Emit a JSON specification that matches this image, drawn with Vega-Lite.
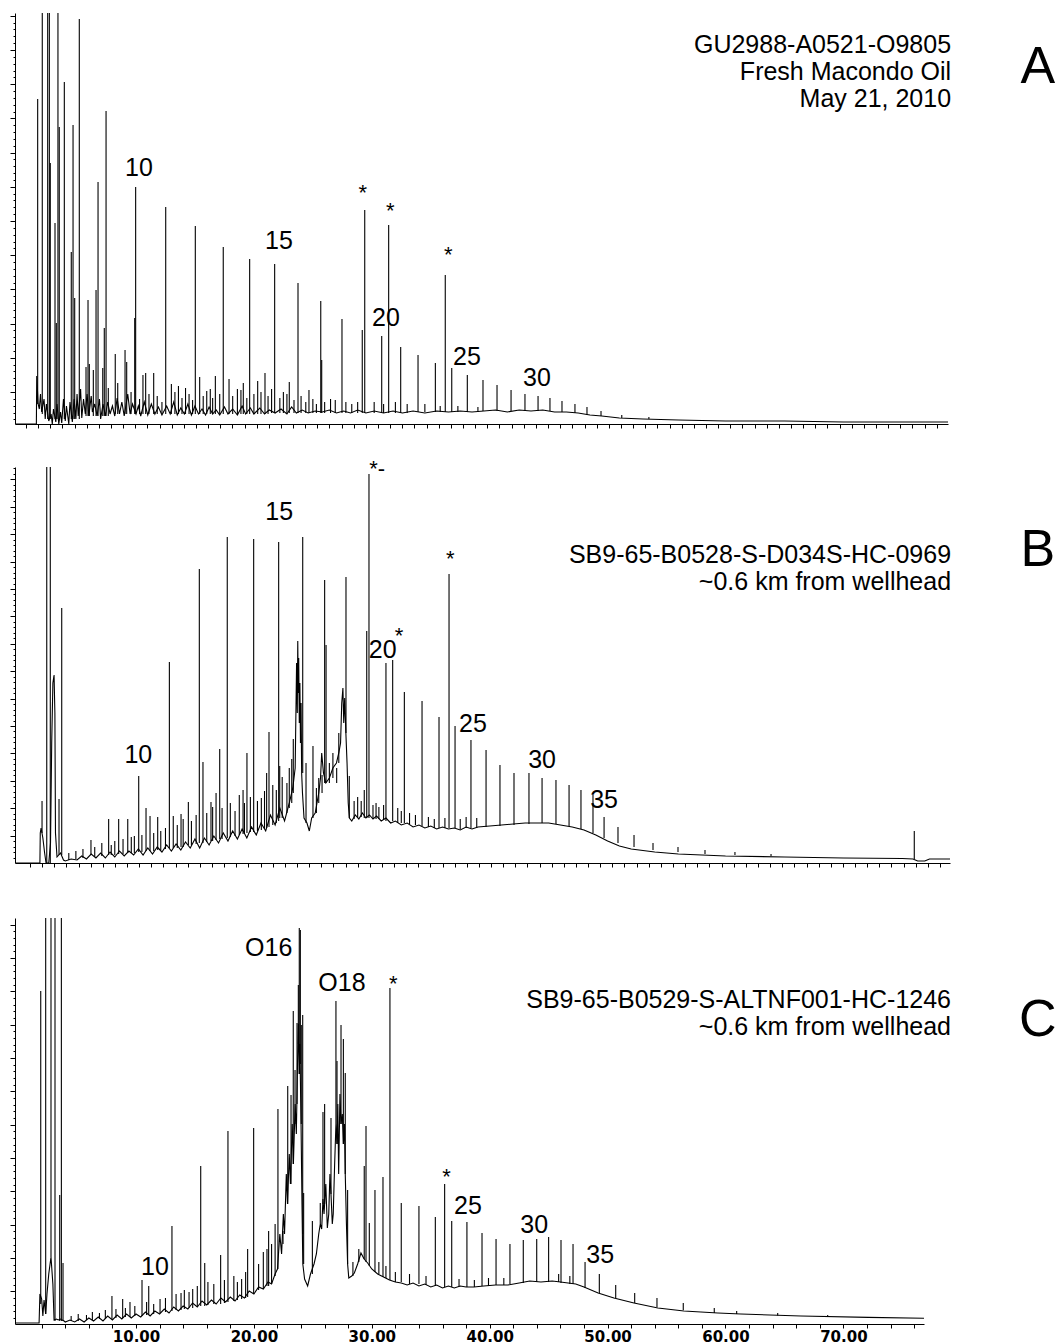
{
"$schema":"https://vega.github.io/schema/vega-lite/v6.json",
"padding":{"left":9,"top":13,"right":0,"bottom":0},
"background":"white",
"config":{"view":{"stroke":null},"axis":{"grid":false,"domainColor":"#000","tickColor":"#000","domainWidth":1,"tickWidth":1,"tickCount":1000}},
"datasets":{
"bA":[{"t":-0.26,"v":0},{"t":1.55,"v":0},{"t":1.58,"v":48},{"t":1.7,"v":20},{"t":1.8,"v":15},{"t":1.9,"v":30},{"t":2.0,"v":12},{"t":2.2,"v":25},{"t":2.3,"v":5},{"t":2.4,"v":20},{"t":2.6,"v":3},{"t":2.8,"v":10},{"t":2.9,"v":0},{"t":3.0,"v":15},{"t":3.2,"v":2},{"t":3.3,"v":20},{"t":3.45,"v":0},{"t":3.6,"v":12},{"t":3.7,"v":1},{"t":3.85,"v":25},{"t":4.0,"v":3},{"t":4.1,"v":18},{"t":4.3,"v":0},{"t":4.4,"v":22},{"t":4.6,"v":2},{"t":4.75,"v":25},{"t":4.9,"v":5},{"t":5.0,"v":30},{"t":5.1,"v":8},{"t":5.3,"v":35},{"t":5.4,"v":6},{"t":5.55,"v":25},{"t":5.7,"v":10},{"t":5.85,"v":30},{"t":6.0,"v":8},{"t":6.2,"v":28},{"t":6.3,"v":12},{"t":6.5,"v":20},{"t":6.7,"v":8},{"t":6.9,"v":25},{"t":7.0,"v":5},{"t":7.2,"v":20},{"t":7.4,"v":8},{"t":7.6,"v":22},{"t":7.8,"v":10},{"t":8.0,"v":18},{"t":8.2,"v":8},{"t":8.4,"v":26},{"t":8.6,"v":10},{"t":8.8,"v":22},{"t":9.0,"v":8},{"t":9.3,"v":30},{"t":9.5,"v":10},{"t":9.7,"v":20},{"t":10.0,"v":10},{"t":10.2,"v":18},{"t":10.4,"v":8},{"t":10.7,"v":22},{"t":11.0,"v":9},{"t":11.3,"v":20},{"t":11.6,"v":10},{"t":11.9,"v":17},{"t":12.2,"v":9},{"t":12.6,"v":18},{"t":12.9,"v":10},{"t":13.2,"v":22},{"t":13.5,"v":9},{"t":13.8,"v":16},{"t":14.1,"v":10},{"t":14.4,"v":20},{"t":14.7,"v":9},{"t":15.0,"v":18},{"t":15.3,"v":10},{"t":15.6,"v":15},{"t":15.9,"v":9},{"t":16.2,"v":17},{"t":16.5,"v":10},{"t":16.8,"v":14},{"t":17.1,"v":9},{"t":17.5,"v":17},{"t":17.8,"v":10},{"t":18.2,"v":15},{"t":18.6,"v":9},{"t":19.0,"v":18},{"t":19.3,"v":10},{"t":19.7,"v":16},{"t":20.0,"v":10},{"t":20.5,"v":16},{"t":20.9,"v":10},{"t":21.3,"v":14},{"t":21.8,"v":11},{"t":22.3,"v":15},{"t":22.8,"v":10},{"t":23.2,"v":17},{"t":23.6,"v":11},{"t":24.1,"v":14},{"t":24.6,"v":11},{"t":25.2,"v":13},{"t":25.8,"v":12},{"t":26.4,"v":14},{"t":27.0,"v":11},{"t":27.6,"v":13},{"t":28.2,"v":11},{"t":28.8,"v":14},{"t":29.5,"v":11},{"t":30.2,"v":13},{"t":31.0,"v":11},{"t":31.8,"v":13},{"t":32.6,"v":11},{"t":33.5,"v":13},{"t":34.5,"v":11},{"t":35.5,"v":13},{"t":36.5,"v":12},{"t":37.5,"v":13},{"t":38.5,"v":12},{"t":39.5,"v":13},{"t":40.5,"v":14},{"t":41.5,"v":12},{"t":42.5,"v":14},{"t":43.5,"v":13},{"t":44.5,"v":14},{"t":45.5,"v":12},{"t":46.5,"v":12},{"t":47.5,"v":11},{"t":48.5,"v":9},{"t":49.5,"v":8},{"t":51,"v":6},{"t":53,"v":5},{"t":56,"v":4},{"t":60,"v":3},{"t":65,"v":3},{"t":70,"v":2},{"t":75,"v":2},{"t":78.87,"v":2}],
"pA":[{"t":1.66,"v":325,"b":20},{"t":2.05,"v":450,"b":10},{"t":2.51,"v":450,"b":5},{"t":2.65,"v":450,"b":5},{"t":2.73,"v":261,"b":5},{"t":3.13,"v":201,"b":5},{"t":3.24,"v":101,"b":5},{"t":3.38,"v":450,"b":5},{"t":3.49,"v":297,"b":5},{"t":3.92,"v":342,"b":5},{"t":4.51,"v":172,"b":5},{"t":4.66,"v":299,"b":5},{"t":4.8,"v":126,"b":5},{"t":5.19,"v":405,"b":5},{"t":5.76,"v":57,"b":8},{"t":5.93,"v":124,"b":8},{"t":6.04,"v":60,"b":8},{"t":6.38,"v":54,"b":8},{"t":6.61,"v":134,"b":8},{"t":6.78,"v":242,"b":8},{"t":7.18,"v":56,"b":8},{"t":7.31,"v":96,"b":8},{"t":7.46,"v":313,"b":8},{"t":7.65,"v":36,"b":8},{"t":8.24,"v":70,"b":10},{"t":8.45,"v":41,"b":10},{"t":9.07,"v":74,"b":10},{"t":9.21,"v":62,"b":10},{"t":9.58,"v":32,"b":10},{"t":9.89,"v":106,"b":10},{"t":9.97,"v":237,"b":10},{"t":10.3,"v":25,"b":10},{"t":10.59,"v":49,"b":10},{"t":10.82,"v":51,"b":10},{"t":11.1,"v":30,"b":10},{"t":11.5,"v":51,"b":10},{"t":11.8,"v":28,"b":10},{"t":12.2,"v":22,"b":10},{"t":12.52,"v":217,"b":10},{"t":13.0,"v":40,"b":10},{"t":13.3,"v":32,"b":10},{"t":13.6,"v":38,"b":10},{"t":13.9,"v":26,"b":10},{"t":14.2,"v":36,"b":10},{"t":14.5,"v":30,"b":10},{"t":14.8,"v":24,"b":10},{"t":15.03,"v":198,"b":10},{"t":15.4,"v":47,"b":10},{"t":15.7,"v":28,"b":10},{"t":16.0,"v":33,"b":10},{"t":16.3,"v":35,"b":10},{"t":16.5,"v":26,"b":10},{"t":16.73,"v":48,"b":10},{"t":17.1,"v":30,"b":10},{"t":17.4,"v":177,"b":10},{"t":17.89,"v":45,"b":10},{"t":18.2,"v":28,"b":10},{"t":18.6,"v":35,"b":10},{"t":18.9,"v":34,"b":10},{"t":19.1,"v":41,"b":10},{"t":19.4,"v":26,"b":10},{"t":19.64,"v":165,"b":10},{"t":20.0,"v":30,"b":10},{"t":20.32,"v":43,"b":10},{"t":20.6,"v":32,"b":10},{"t":20.94,"v":51,"b":10},{"t":21.2,"v":28,"b":10},{"t":21.5,"v":35,"b":11},{"t":21.76,"v":160,"b":11},{"t":22.2,"v":26,"b":11},{"t":22.5,"v":32,"b":11},{"t":22.8,"v":30,"b":11},{"t":23.0,"v":42,"b":11},{"t":23.4,"v":24,"b":11},{"t":23.74,"v":141,"b":11},{"t":24.0,"v":28,"b":11},{"t":24.4,"v":22,"b":11},{"t":24.67,"v":34,"b":11},{"t":25.0,"v":25,"b":11},{"t":25.3,"v":20,"b":11},{"t":25.67,"v":123,"b":11},{"t":25.75,"v":64,"b":11},{"t":26.0,"v":22,"b":11},{"t":26.5,"v":25,"b":11},{"t":26.9,"v":24,"b":11},{"t":27.47,"v":105,"b":11},{"t":27.8,"v":22,"b":11},{"t":28.3,"v":20,"b":11},{"t":28.8,"v":22,"b":11},{"t":29.19,"v":94,"b":11},{"t":29.4,"v":214,"b":11},{"t":30.2,"v":22,"b":11},{"t":30.84,"v":88,"b":11},{"t":31.0,"v":20,"b":11},{"t":31.43,"v":199,"b":11},{"t":32.0,"v":22,"b":11},{"t":32.45,"v":77,"b":11},{"t":33.0,"v":20,"b":11},{"t":33.92,"v":69,"b":12},{"t":34.5,"v":20,"b":12},{"t":35.39,"v":61,"b":12},{"t":35.8,"v":18,"b":12},{"t":36.23,"v":149,"b":12},{"t":36.78,"v":56,"b":12},{"t":37.3,"v":18,"b":12},{"t":38.1,"v":49,"b":12},{"t":39.0,"v":17,"b":12},{"t":39.43,"v":44,"b":13},{"t":40.62,"v":39,"b":13},{"t":41.81,"v":34,"b":13},{"t":42.99,"v":30,"b":13},{"t":44.1,"v":28,"b":13},{"t":45.11,"v":26,"b":13},{"t":46.13,"v":23,"b":12},{"t":47.23,"v":20,"b":11},{"t":48.25,"v":17,"b":9},{"t":49.44,"v":13,"b":8},{"t":51.2,"v":9,"b":6},{"t":53.5,"v":7,"b":5}],
"bB":[{"t":-0.26,"v":0},{"t":1.85,"v":0},{"t":1.88,"v":30},{"t":1.95,"v":35},{"t":2.1,"v":25},{"t":2.25,"v":10},{"t":2.37,"v":0},{"t":2.6,"v":0},{"t":2.75,"v":20},{"t":2.85,"v":120},{"t":2.95,"v":180},{"t":3.05,"v":188},{"t":3.12,"v":150},{"t":3.17,"v":30},{"t":3.3,"v":6},{"t":3.6,"v":10},{"t":3.85,"v":3},{"t":4.0,"v":2},{"t":4.5,"v":4},{"t":5.0,"v":3},{"t":5.4,"v":7},{"t":5.8,"v":4},{"t":6.2,"v":9},{"t":6.6,"v":5},{"t":7.0,"v":10},{"t":7.4,"v":5},{"t":7.8,"v":11},{"t":8.2,"v":6},{"t":8.6,"v":12},{"t":9.0,"v":7},{"t":9.4,"v":12},{"t":9.8,"v":8},{"t":10.2,"v":14},{"t":10.6,"v":8},{"t":11.0,"v":15},{"t":11.4,"v":9},{"t":11.8,"v":16},{"t":12.2,"v":11},{"t":12.6,"v":18},{"t":13.0,"v":12},{"t":13.4,"v":19},{"t":13.8,"v":13},{"t":14.2,"v":21},{"t":14.6,"v":15},{"t":15.0,"v":24},{"t":15.4,"v":15},{"t":15.8,"v":25},{"t":16.2,"v":18},{"t":16.6,"v":27},{"t":17.0,"v":20},{"t":17.4,"v":30},{"t":17.8,"v":22},{"t":18.2,"v":32},{"t":18.6,"v":24},{"t":19.0,"v":34},{"t":19.4,"v":25},{"t":19.8,"v":36},{"t":20.2,"v":28},{"t":20.6,"v":40},{"t":21.0,"v":32},{"t":21.4,"v":48},{"t":21.8,"v":38},{"t":22.2,"v":55},{"t":22.6,"v":42},{"t":23.0,"v":60},{"t":23.3,"v":75},{"t":23.5,"v":95},{"t":23.62,"v":200},{"t":23.68,"v":150},{"t":23.72,"v":222},{"t":23.76,"v":170},{"t":23.8,"v":205},{"t":23.85,"v":140},{"t":23.9,"v":180},{"t":23.95,"v":120},{"t":24.0,"v":160},{"t":24.05,"v":90},{"t":24.12,"v":70},{"t":24.25,"v":45},{"t":24.5,"v":40},{"t":24.7,"v":32},{"t":24.9,"v":45},{"t":25.2,"v":50},{"t":25.5,"v":70},{"t":25.65,"v":85},{"t":25.75,"v":110},{"t":25.9,"v":90},{"t":26.1,"v":80},{"t":26.4,"v":85},{"t":26.7,"v":95},{"t":27.0,"v":100},{"t":27.2,"v":110},{"t":27.35,"v":120},{"t":27.45,"v":160},{"t":27.55,"v":175},{"t":27.62,"v":140},{"t":27.7,"v":165},{"t":27.8,"v":130},{"t":27.9,"v":100},{"t":28.0,"v":60},{"t":28.1,"v":45},{"t":28.3,"v":42},{"t":28.6,"v":48},{"t":28.9,"v":44},{"t":29.2,"v":50},{"t":29.5,"v":45},{"t":29.8,"v":48},{"t":30.1,"v":44},{"t":30.4,"v":47},{"t":30.8,"v":42},{"t":31.2,"v":45},{"t":31.6,"v":40},{"t":32.0,"v":42},{"t":32.5,"v":38},{"t":33.0,"v":40},{"t":33.5,"v":36},{"t":34.0,"v":38},{"t":34.5,"v":35},{"t":35.0,"v":37},{"t":35.5,"v":34},{"t":36.0,"v":36},{"t":36.5,"v":34},{"t":37.0,"v":35},{"t":37.5,"v":33},{"t":38.0,"v":36},{"t":38.5,"v":34},{"t":39.0,"v":36},{"t":40,"v":37},{"t":41,"v":38},{"t":42,"v":39},{"t":43,"v":40},{"t":44,"v":40},{"t":45,"v":40},{"t":46,"v":38},{"t":47,"v":36},{"t":48,"v":33},{"t":49,"v":28},{"t":50,"v":22},{"t":51,"v":17},{"t":52,"v":14},{"t":54,"v":11},{"t":56,"v":9},{"t":60,"v":7},{"t":65,"v":6},{"t":70,"v":5},{"t":75,"v":4.5},{"t":75.9,"v":4},{"t":76.3,"v":2},{"t":76.9,"v":2},{"t":77.3,"v":4},{"t":77.8,"v":4},{"t":79.04,"v":4}],
"pB":[{"t":2.03,"v":62,"b":30},{"t":2.43,"v":450,"b":0},{"t":2.73,"v":450,"b":0},{"t":3.47,"v":64,"b":8},{"t":3.7,"v":255,"b":8},{"t":4.3,"v":10,"b":3},{"t":4.9,"v":12,"b":4},{"t":5.5,"v":14,"b":5},{"t":6.18,"v":23,"b":8},{"t":6.5,"v":16,"b":6},{"t":7.1,"v":20,"b":7},{"t":7.68,"v":44,"b":8},{"t":7.9,"v":18,"b":8},{"t":8.2,"v":22,"b":8},{"t":8.53,"v":44,"b":9},{"t":8.9,"v":24,"b":9},{"t":9.3,"v":44,"b":10},{"t":9.6,"v":26,"b":10},{"t":9.86,"v":27,"b":10},{"t":10.23,"v":87,"b":11},{"t":10.5,"v":28,"b":11},{"t":10.85,"v":55,"b":12},{"t":11.19,"v":47,"b":12},{"t":11.5,"v":30,"b":12},{"t":11.84,"v":46,"b":13},{"t":12.1,"v":32,"b":13},{"t":12.5,"v":35,"b":14},{"t":12.83,"v":201,"b":15},{"t":13.16,"v":47,"b":15},{"t":13.5,"v":38,"b":15},{"t":13.82,"v":49,"b":16},{"t":14.0,"v":44,"b":16},{"t":14.44,"v":61,"b":18},{"t":14.7,"v":42,"b":18},{"t":15.1,"v":48,"b":19},{"t":15.37,"v":294,"b":20},{"t":15.68,"v":101,"b":20},{"t":16.0,"v":50,"b":21},{"t":16.36,"v":61,"b":22},{"t":16.5,"v":56,"b":22},{"t":16.79,"v":70,"b":23},{"t":17.1,"v":114,"b":24},{"t":17.3,"v":55,"b":24},{"t":17.74,"v":326,"b":25},{"t":18.0,"v":60,"b":26},{"t":18.4,"v":52,"b":27},{"t":18.76,"v":68,"b":28},{"t":19.08,"v":73,"b":29},{"t":19.2,"v":60,"b":29},{"t":19.41,"v":110,"b":30},{"t":19.7,"v":66,"b":31},{"t":19.98,"v":324,"b":31},{"t":20.3,"v":62,"b":32},{"t":20.63,"v":65,"b":33},{"t":20.9,"v":72,"b":34},{"t":21.08,"v":90,"b":35},{"t":21.28,"v":131,"b":36},{"t":21.6,"v":78,"b":38},{"t":21.9,"v":73,"b":40},{"t":22.1,"v":321,"b":42},{"t":22.19,"v":97,"b":45},{"t":22.4,"v":86,"b":45},{"t":22.8,"v":80,"b":50},{"t":23.0,"v":95,"b":55},{"t":23.21,"v":104,"b":60},{"t":23.34,"v":124,"b":70},{"t":24.14,"v":326,"b":90},{"t":24.42,"v":100,"b":40},{"t":25.01,"v":117,"b":45},{"t":25.3,"v":75,"b":50},{"t":25.5,"v":85,"b":60},{"t":25.78,"v":88,"b":70},{"t":26.0,"v":283,"b":80},{"t":26.12,"v":218,"b":80},{"t":26.4,"v":100,"b":80},{"t":26.7,"v":110,"b":85},{"t":27.02,"v":95,"b":80},{"t":27.2,"v":130,"b":100},{"t":27.81,"v":286,"b":130},{"t":28.09,"v":87,"b":45},{"t":28.5,"v":62,"b":44},{"t":28.8,"v":66,"b":45},{"t":29.1,"v":62,"b":46},{"t":29.36,"v":73,"b":45},{"t":29.57,"v":232,"b":45},{"t":29.76,"v":389,"b":45},{"t":30.1,"v":58,"b":44},{"t":30.36,"v":60,"b":44},{"t":30.6,"v":56,"b":44},{"t":31.0,"v":58,"b":43},{"t":31.2,"v":200,"b":42},{"t":31.77,"v":203,"b":42},{"t":32.2,"v":55,"b":40},{"t":32.5,"v":52,"b":40},{"t":32.76,"v":171,"b":40},{"t":33.2,"v":50,"b":39},{"t":33.7,"v":48,"b":38},{"t":34.26,"v":162,"b":37},{"t":34.8,"v":46,"b":36},{"t":35.3,"v":44,"b":35},{"t":35.7,"v":146,"b":35},{"t":36.2,"v":45,"b":35},{"t":36.55,"v":289,"b":35},{"t":37.06,"v":137,"b":35},{"t":37.5,"v":44,"b":34},{"t":38.0,"v":46,"b":35},{"t":38.41,"v":123,"b":35},{"t":38.9,"v":45,"b":35},{"t":39.69,"v":113,"b":36},{"t":40.87,"v":98,"b":37},{"t":42.06,"v":90,"b":38},{"t":43.33,"v":90,"b":39},{"t":44.44,"v":85,"b":40},{"t":45.62,"v":83,"b":39},{"t":46.73,"v":78,"b":37},{"t":47.74,"v":73,"b":34},{"t":48.76,"v":68,"b":30},{"t":49.7,"v":46,"b":25},{"t":50.88,"v":36,"b":20},{"t":52.24,"v":28,"b":16},{"t":53.85,"v":20,"b":13},{"t":55.97,"v":16,"b":11},{"t":58.26,"v":13,"b":9},{"t":60.8,"v":11,"b":8},{"t":63.86,"v":9,"b":7},{"t":76.01,"v":32,"b":4}],
"bC":[{"t":-0.26,"v":1},{"t":1.78,"v":1},{"t":1.85,"v":30},{"t":2.0,"v":25},{"t":2.1,"v":8},{"t":2.2,"v":24},{"t":2.34,"v":10},{"t":2.45,"v":30},{"t":2.6,"v":50},{"t":2.79,"v":67},{"t":2.95,"v":40},{"t":3.05,"v":4},{"t":3.25,"v":5},{"t":3.4,"v":4},{"t":3.6,"v":5},{"t":3.9,"v":3},{"t":4.0,"v":2},{"t":4.4,"v":4},{"t":4.8,"v":2},{"t":5.2,"v":5},{"t":5.6,"v":2},{"t":6.0,"v":6},{"t":6.4,"v":3},{"t":6.8,"v":7},{"t":7.2,"v":3},{"t":7.6,"v":8},{"t":8.0,"v":4},{"t":8.4,"v":9},{"t":8.8,"v":5},{"t":9.2,"v":10},{"t":9.6,"v":6},{"t":10.0,"v":10},{"t":10.4,"v":7},{"t":10.8,"v":12},{"t":11.2,"v":8},{"t":11.6,"v":13},{"t":12.0,"v":10},{"t":12.4,"v":15},{"t":12.8,"v":11},{"t":13.2,"v":17},{"t":13.6,"v":13},{"t":14.0,"v":18},{"t":14.4,"v":15},{"t":14.8,"v":21},{"t":15.2,"v":17},{"t":15.6,"v":23},{"t":16.0,"v":19},{"t":16.4,"v":24},{"t":16.8,"v":20},{"t":17.2,"v":26},{"t":17.6,"v":22},{"t":18.0,"v":27},{"t":18.4,"v":23},{"t":18.8,"v":29},{"t":19.2,"v":26},{"t":19.6,"v":33},{"t":20.0,"v":30},{"t":20.4,"v":37},{"t":20.8,"v":35},{"t":21.2,"v":42},{"t":21.5,"v":40},{"t":21.8,"v":50},{"t":22.0,"v":55},{"t":22.2,"v":90},{"t":22.35,"v":70},{"t":22.5,"v":110},{"t":22.6,"v":90},{"t":22.75,"v":150},{"t":22.85,"v":120},{"t":23.0,"v":170},{"t":23.1,"v":140},{"t":23.25,"v":200},{"t":23.35,"v":160},{"t":23.5,"v":220},{"t":23.6,"v":190},{"t":23.7,"v":260},{"t":23.78,"v":300},{"t":23.85,"v":250},{"t":23.9,"v":280},{"t":24.0,"v":200},{"t":24.08,"v":120},{"t":24.15,"v":60},{"t":24.3,"v":45},{"t":24.56,"v":38},{"t":24.8,"v":50},{"t":25.1,"v":60},{"t":25.3,"v":70},{"t":25.5,"v":90},{"t":25.63,"v":100},{"t":25.75,"v":95},{"t":25.86,"v":125},{"t":25.95,"v":110},{"t":26.1,"v":140},{"t":26.23,"v":96},{"t":26.35,"v":110},{"t":26.45,"v":150},{"t":26.54,"v":130},{"t":26.65,"v":100},{"t":26.73,"v":110},{"t":26.85,"v":160},{"t":26.96,"v":200},{"t":27.05,"v":180},{"t":27.12,"v":220},{"t":27.19,"v":150},{"t":27.3,"v":230},{"t":27.39,"v":200},{"t":27.5,"v":210},{"t":27.59,"v":180},{"t":27.68,"v":200},{"t":27.75,"v":150},{"t":27.85,"v":100},{"t":27.95,"v":60},{"t":28.05,"v":46},{"t":28.3,"v":48},{"t":28.52,"v":51},{"t":28.8,"v":60},{"t":29.08,"v":71},{"t":29.35,"v":65},{"t":29.65,"v":61},{"t":30.0,"v":55},{"t":30.5,"v":50},{"t":31.0,"v":47},{"t":31.5,"v":44},{"t":32.0,"v":42},{"t":32.5,"v":41},{"t":33.0,"v":39},{"t":33.5,"v":41},{"t":34.0,"v":38},{"t":34.5,"v":40},{"t":35.0,"v":37},{"t":35.5,"v":39},{"t":36.0,"v":36},{"t":36.5,"v":38},{"t":37.0,"v":36},{"t":37.5,"v":38},{"t":38.0,"v":37},{"t":38.67,"v":37},{"t":39.5,"v":38},{"t":40.5,"v":39},{"t":41.55,"v":39},{"t":42.5,"v":41},{"t":43.4,"v":43},{"t":44.35,"v":42},{"t":45.3,"v":43},{"t":46.0,"v":42},{"t":46.65,"v":41},{"t":47.3,"v":40},{"t":48.0,"v":37},{"t":49.2,"v":31},{"t":50.54,"v":26},{"t":52.24,"v":21},{"t":54.27,"v":16},{"t":56.48,"v":13},{"t":59.36,"v":11},{"t":61.3,"v":10},{"t":66.4,"v":8},{"t":72.1,"v":6.6},{"t":76.84,"v":5.7}],
"pC":[{"t":1.92,"v":333,"b":20},{"t":2.34,"v":450,"b":10},{"t":2.79,"v":450,"b":67},{"t":3.13,"v":450,"b":3},{"t":3.53,"v":129,"b":3},{"t":3.67,"v":450,"b":3},{"t":3.81,"v":61,"b":3},{"t":4.5,"v":8,"b":3},{"t":5.1,"v":10,"b":3},{"t":5.8,"v":9,"b":4},{"t":6.3,"v":12,"b":4},{"t":6.9,"v":11,"b":5},{"t":7.4,"v":14,"b":5},{"t":7.96,"v":28,"b":5},{"t":8.3,"v":15,"b":6},{"t":8.87,"v":25,"b":6},{"t":9.1,"v":16,"b":7},{"t":9.49,"v":22,"b":7},{"t":9.9,"v":18,"b":8},{"t":10.51,"v":44,"b":8},{"t":10.9,"v":22,"b":9},{"t":11.08,"v":38,"b":9},{"t":11.5,"v":20,"b":10},{"t":12.04,"v":25,"b":11},{"t":12.5,"v":26,"b":12},{"t":13.05,"v":98,"b":13},{"t":13.4,"v":30,"b":14},{"t":13.82,"v":31,"b":14},{"t":14.1,"v":34,"b":15},{"t":14.5,"v":32,"b":16},{"t":14.81,"v":35,"b":16},{"t":15.2,"v":38,"b":17},{"t":15.49,"v":158,"b":18},{"t":15.83,"v":61,"b":18},{"t":16.1,"v":42,"b":19},{"t":16.6,"v":40,"b":20},{"t":17.18,"v":69,"b":20},{"t":17.5,"v":44,"b":21},{"t":17.8,"v":193,"b":22},{"t":18.3,"v":48,"b":23},{"t":18.6,"v":42,"b":24},{"t":18.96,"v":45,"b":25},{"t":19.3,"v":52,"b":26},{"t":19.47,"v":75,"b":27},{"t":19.98,"v":196,"b":30},{"t":20.4,"v":60,"b":34},{"t":20.8,"v":72,"b":35},{"t":21.11,"v":75,"b":38},{"t":21.25,"v":93,"b":38},{"t":21.5,"v":80,"b":40},{"t":21.8,"v":100,"b":48},{"t":22.04,"v":215,"b":55},{"t":22.47,"v":93,"b":80},{"t":22.87,"v":238,"b":120},{"t":23.15,"v":229,"b":140},{"t":23.34,"v":313,"b":160},{"t":23.49,"v":254,"b":200},{"t":23.66,"v":301,"b":220},{"t":23.77,"v":339,"b":280},{"t":23.85,"v":396,"b":250},{"t":23.94,"v":394,"b":260},{"t":24.02,"v":299,"b":200},{"t":24.14,"v":309,"b":90},{"t":24.22,"v":131,"b":60},{"t":24.96,"v":103,"b":50},{"t":25.63,"v":121,"b":100},{"t":25.86,"v":212,"b":120},{"t":26.0,"v":220,"b":120},{"t":26.54,"v":206,"b":130},{"t":26.96,"v":323,"b":200},{"t":27.05,"v":263,"b":180},{"t":27.39,"v":299,"b":200},{"t":27.59,"v":285,"b":180},{"t":27.75,"v":251,"b":150},{"t":27.95,"v":134,"b":60},{"t":28.4,"v":62,"b":48},{"t":28.9,"v":75,"b":62},{"t":29.36,"v":158,"b":65},{"t":29.51,"v":198,"b":62},{"t":29.79,"v":101,"b":58},{"t":30.27,"v":134,"b":52},{"t":30.6,"v":62,"b":50},{"t":30.95,"v":147,"b":47},{"t":31.2,"v":58,"b":46},{"t":31.54,"v":336,"b":44},{"t":32.0,"v":52,"b":42},{"t":32.5,"v":121,"b":42},{"t":33.2,"v":50,"b":40},{"t":34.0,"v":118,"b":40},{"t":34.6,"v":48,"b":39},{"t":35.39,"v":107,"b":38},{"t":36.18,"v":140,"b":37},{"t":36.78,"v":103,"b":37},{"t":37.4,"v":45,"b":37},{"t":38.07,"v":102,"b":37},{"t":38.7,"v":44,"b":37},{"t":39.35,"v":91,"b":38},{"t":39.9,"v":46,"b":38},{"t":40.54,"v":85,"b":39},{"t":41.2,"v":46,"b":39},{"t":41.72,"v":80,"b":40},{"t":42.85,"v":84,"b":41},{"t":43.99,"v":85,"b":42},{"t":45.0,"v":87,"b":42},{"t":45.85,"v":50,"b":42},{"t":46.05,"v":84,"b":41},{"t":46.8,"v":48,"b":40},{"t":47.07,"v":80,"b":40},{"t":48.09,"v":62,"b":36},{"t":49.3,"v":50,"b":31},{"t":50.69,"v":39,"b":26},{"t":52.3,"v":31,"b":21},{"t":54.19,"v":26,"b":17},{"t":56.42,"v":21,"b":14},{"t":59.05,"v":16,"b":11},{"t":60.95,"v":13,"b":10},{"t":64.43,"v":11,"b":8.5},{"t":68.67,"v":9,"b":7.5}],
"lab":[
{"p":"A","k":"n","s":"10","t":10.25,"v":256},{"p":"A","k":"n","s":"15","t":22.13,"v":183},{"p":"A","k":"n","s":"20","t":31.2,"v":106},{"p":"A","k":"n","s":"25","t":38.07,"v":67},{"p":"A","k":"n","s":"30","t":44.01,"v":46},
{"p":"A","k":"s","s":"*","t":29.23,"v":224},{"p":"A","k":"s","s":"*","t":31.57,"v":206},{"p":"A","k":"s","s":"*","t":36.49,"v":162},
{"p":"A","k":"i","s":"GU2988-A0521-O9805","t":79.13,"v":379},{"p":"A","k":"i","s":"Fresh Macondo Oil","t":79.13,"v":352},{"p":"A","k":"i","s":"May 21, 2010","t":79.13,"v":325},
{"p":"A","k":"L","s":"A","t":86.5,"v":357},
{"p":"B","k":"n","s":"10","t":10.2,"v":108},{"p":"B","k":"n","s":"15","t":22.15,"v":351},{"p":"B","k":"n","s":"20","t":30.92,"v":213},{"p":"B","k":"n","s":"25","t":38.58,"v":139},{"p":"B","k":"n","s":"30","t":44.44,"v":103},{"p":"B","k":"n","s":"35","t":49.7,"v":63},
{"p":"B","k":"s","s":"*-","t":30.45,"v":387},{"p":"B","k":"s","s":"*","t":36.66,"v":297},{"p":"B","k":"s","s":"*","t":32.3,"v":220},
{"p":"B","k":"i","s":"SB9-65-B0528-S-D034S-HC-0969","t":79.13,"v":308},{"p":"B","k":"i","s":"~0.6 km from wellhead","t":79.13,"v":281},
{"p":"B","k":"L","s":"B","t":86.5,"v":313},
{"p":"C","k":"n","s":"O16","t":21.26,"v":376},{"p":"C","k":"n","s":"O18","t":27.47,"v":341},{"p":"C","k":"n","s":"10","t":11.61,"v":57},{"p":"C","k":"n","s":"25","t":38.16,"v":118},{"p":"C","k":"n","s":"30","t":43.78,"v":99},{"p":"C","k":"n","s":"35","t":49.38,"v":69},
{"p":"C","k":"s","s":"*","t":31.82,"v":333},{"p":"C","k":"s","s":"*","t":36.35,"v":140},
{"p":"C","k":"i","s":"SB9-65-B0529-S-ALTNF001-HC-1246","t":79.13,"v":324},{"p":"C","k":"i","s":"~0.6 km from wellhead","t":79.13,"v":297},
{"p":"C","k":"L","s":"C","t":86.5,"v":304}
]
},
"bounds":"flush",
"spacing":43,
"vconcat":[
{
"width":933,"height":411,
"layer":[
{"data":{"name":"bA"},"mark":{"type":"line","color":"#000","strokeWidth":1.1,"clip":true},
"encoding":{
"x":{"field":"t","type":"quantitative","title":null,"scale":{"domain":[-0.263,78.87],"nice":false,"zero":false},"axis":{"values":[0.67,1.7,2.73,3.76,4.79,5.82,6.85,7.88,8.91,9.94,10.97,12.0,13.03,14.06,15.09,16.12,17.15,18.18,19.21,20.23,21.26,22.29,23.32,24.35,25.38,26.41,27.44,28.47,29.5,30.53,31.56,32.59,33.62,34.65,35.68,36.71,37.74,38.77,39.8,40.83,41.86,42.89,43.92,44.95,45.98,47.01,48.04,49.07,50.1,51.13,52.16,53.19,54.22,55.25,56.28,57.31,58.34,59.37,60.4,61.43,62.46,63.49,64.52,65.55,66.58,67.61,68.64,69.67,70.7,71.73,72.76,73.79,74.82,75.85,76.88,77.91],"tickCount":1000,"labels":false,"tickSize":4}},
"y":{"field":"v","type":"quantitative","title":null,"scale":{"domain":[0,411],"nice":false},"axis":{"values":[4.64,11.48,18.32,25.16,32,38.84,45.68,52.52,59.36,66.2,73.04,79.88,86.72,93.56,100.4,107.24,114.08,120.92,127.76,134.6,141.44,148.28,155.12,161.96,168.8,175.64,182.48,189.32,196.16,203,209.84,216.68,223.52,230.36,237.2,244.04,250.88,257.72,264.56,271.4,278.24,285.08,291.92,298.76,305.6,312.44,319.28,326.12,332.96,339.8,346.64,353.48,360.32,367.16,374,380.84,387.68,394.52,401.36,408.2],"tickCount":1000,"labels":false,"tickSize":{"condition":{"test":"abs((datum.value-32)/34.2-round((datum.value-32)/34.2))<0.05","value":5},"value":2}}}}},
{"data":{"name":"pA"},"mark":{"type":"rule","color":"#000","strokeWidth":1.1,"clip":true},
"encoding":{"x":{"field":"t","type":"quantitative","title":null},"y":{"field":"v","type":"quantitative","title":null},"y2":{"field":"b"}}},
{"data":{"name":"lab"},"transform":[{"filter":"datum.p==='A' && datum.k==='n'"}],"mark":{"type":"text","font":"Liberation Sans","fontSize":25,"baseline":"middle","align":"center","color":"#000"},
"encoding":{"x":{"field":"t","type":"quantitative","title":null},"y":{"field":"v","type":"quantitative","title":null},"text":{"field":"s"}}},
{"data":{"name":"lab"},"transform":[{"filter":"datum.p==='A' && datum.k==='s'"}],"mark":{"type":"text","font":"Liberation Sans","fontSize":22,"baseline":"alphabetic","align":"center","color":"#000"},
"encoding":{"x":{"field":"t","type":"quantitative","title":null},"y":{"field":"v","type":"quantitative","title":null},"text":{"field":"s"}}},
{"data":{"name":"lab"},"transform":[{"filter":"datum.p==='A' && datum.k==='i'"}],"mark":{"type":"text","font":"Liberation Sans","fontSize":25,"baseline":"middle","align":"right","color":"#000"},
"encoding":{"x":{"field":"t","type":"quantitative","title":null},"y":{"field":"v","type":"quantitative","title":null},"text":{"field":"s"}}},
{"data":{"name":"lab"},"transform":[{"filter":"datum.p==='A' && datum.k==='L'"}],"mark":{"type":"text","font":"Liberation Sans","fontSize":52,"baseline":"middle","align":"center","color":"#000"},
"encoding":{"x":{"field":"t","type":"quantitative","title":null},"y":{"field":"v","type":"quantitative","title":null},"text":{"field":"s"}}}
]
},
{
"bounds":"flush",
"spacing":55,
"vconcat":[
{
"width":935,"height":396,
"layer":[
{"data":{"name":"bB"},"mark":{"type":"line","color":"#000","strokeWidth":1.1,"clip":true},
"encoding":{
"x":{"field":"t","type":"quantitative","title":null,"scale":{"domain":[-0.263,79.04],"nice":false,"zero":false},"axis":{"values":[1.01,2.04,3.07,4.1,5.13,6.16,7.18,8.21,9.24,10.27,11.3,12.33,13.36,14.39,15.42,16.45,17.48,18.5,19.53,20.56,21.59,22.62,23.65,24.68,25.71,26.74,27.77,28.79,29.82,30.85,31.88,32.91,33.94,34.97,36.0,37.03,38.06,39.09,40.11,41.14,42.17,43.2,44.23,45.26,46.29,47.32,48.35,49.38,50.41,51.43,52.46,53.49,54.52,55.55,56.58,57.61,58.64,59.67,60.7,61.72,62.75,63.78,64.81,65.84,66.87,67.9,68.93,69.96,70.99,72.02,73.04,74.07,75.1,76.13,77.16,78.19],"tickCount":1000,"labels":false,"tickSize":4}},
"y":{"field":"v","type":"quantitative","title":null,"scale":{"domain":[0,396],"nice":false},"axis":{"values":[5.48,10.96,16.44,21.92,27.4,32.88,38.36,43.84,49.32,54.8,60.28,65.76,71.24,76.72,82.2,87.68,93.16,98.64,104.12,109.6,115.08,120.56,126.04,131.52,137,142.48,147.96,153.44,158.92,164.4,169.88,175.36,180.84,186.32,191.8,197.28,202.76,208.24,213.72,219.2,224.68,230.16,235.64,241.12,246.6,252.08,257.56,263.04,268.52,274,279.48,284.96,290.44,295.92,301.4,306.88,312.36,317.84,323.32,328.8,334.28,339.76,345.24,350.72,356.2,361.68,367.16,372.64,378.12,383.6,389.08,394.56],"tickCount":1000,"labels":false,"tickSize":{"condition":{"test":"abs(datum.value/27.4-round(datum.value/27.4))<0.05","value":5},"value":2}}}}},
{"data":{"name":"pB"},"mark":{"type":"rule","color":"#000","strokeWidth":1.1,"clip":true},
"encoding":{"x":{"field":"t","type":"quantitative","title":null},"y":{"field":"v","type":"quantitative","title":null},"y2":{"field":"b"}}},
{"data":{"name":"lab"},"transform":[{"filter":"datum.p==='B' && datum.k==='n'"}],"mark":{"type":"text","font":"Liberation Sans","fontSize":25,"baseline":"middle","align":"center","color":"#000"},
"encoding":{"x":{"field":"t","type":"quantitative","title":null},"y":{"field":"v","type":"quantitative","title":null},"text":{"field":"s"}}},
{"data":{"name":"lab"},"transform":[{"filter":"datum.p==='B' && datum.k==='s'"}],"mark":{"type":"text","font":"Liberation Sans","fontSize":22,"baseline":"alphabetic","align":"center","color":"#000"},
"encoding":{"x":{"field":"t","type":"quantitative","title":null},"y":{"field":"v","type":"quantitative","title":null},"text":{"field":"s"}}},
{"data":{"name":"lab"},"transform":[{"filter":"datum.p==='B' && datum.k==='i'"}],"mark":{"type":"text","font":"Liberation Sans","fontSize":25,"baseline":"middle","align":"right","color":"#000"},
"encoding":{"x":{"field":"t","type":"quantitative","title":null},"y":{"field":"v","type":"quantitative","title":null},"text":{"field":"s"}}},
{"data":{"name":"lab"},"transform":[{"filter":"datum.p==='B' && datum.k==='L'"}],"mark":{"type":"text","font":"Liberation Sans","fontSize":52,"baseline":"middle","align":"center","color":"#000"},
"encoding":{"x":{"field":"t","type":"quantitative","title":null},"y":{"field":"v","type":"quantitative","title":null},"text":{"field":"s"}}}
]
},
{
"width":909,"height":406,
"layer":[
{"data":{"name":"bC"},"mark":{"type":"line","color":"#000","strokeWidth":1.1,"clip":true},
"encoding":{
"x":{"field":"t","type":"quantitative","title":null,"scale":{"domain":[-0.263,76.84],"nice":false,"zero":false},"axis":{"values":[2,4,6,8,10,12,14,16,18,20,22,24,26,28,30,32,34,36,38,40,42,44,46,48,50,52,54,56,58,60,62,64,66,68,70,72,74,76],"tickCount":1000,"labelExpr":"datum.value % 10 === 0 ? format(datum.value, '.2f') : ''","labelFont":"DejaVu Sans","labelFontSize":15,"labelFontWeight":"bold","labelColor":"#000","labelPadding":1,"labelOverlap":false,"labelFlush":false,"tickSize":4}},
"y":{"field":"v","type":"quantitative","title":null,"scale":{"domain":[0,406],"nice":false},"axis":{"values":[5.94,12.6,19.27,25.93,32.6,39.27,45.93,52.6,59.26,65.93,72.6,79.26,85.93,92.59,99.26,105.93,112.59,119.26,125.92,132.59,139.26,145.92,152.59,159.25,165.92,172.59,179.25,185.92,192.58,199.25,205.92,212.58,219.25,225.91,232.58,239.25,245.91,252.58,259.24,265.91,272.58,279.24,285.91,292.57,299.24,305.91,312.57,319.24,325.9,332.57,339.24,345.9,352.57,359.23,365.9,372.57,379.23,385.9,392.56,399.23],"tickCount":1000,"labels":false,"tickSize":{"condition":{"test":"abs((datum.value-32.6)/33.33-round((datum.value-32.6)/33.33))<0.05","value":5},"value":2}}}}},
{"data":{"name":"pC"},"mark":{"type":"rule","color":"#000","strokeWidth":1.1,"clip":true},
"encoding":{"x":{"field":"t","type":"quantitative","title":null},"y":{"field":"v","type":"quantitative","title":null},"y2":{"field":"b"}}},
{"data":{"name":"lab"},"transform":[{"filter":"datum.p==='C' && datum.k==='n'"}],"mark":{"type":"text","font":"Liberation Sans","fontSize":25,"baseline":"middle","align":"center","color":"#000"},
"encoding":{"x":{"field":"t","type":"quantitative","title":null},"y":{"field":"v","type":"quantitative","title":null},"text":{"field":"s"}}},
{"data":{"name":"lab"},"transform":[{"filter":"datum.p==='C' && datum.k==='s'"}],"mark":{"type":"text","font":"Liberation Sans","fontSize":22,"baseline":"alphabetic","align":"center","color":"#000"},
"encoding":{"x":{"field":"t","type":"quantitative","title":null},"y":{"field":"v","type":"quantitative","title":null},"text":{"field":"s"}}},
{"data":{"name":"lab"},"transform":[{"filter":"datum.p==='C' && datum.k==='i'"}],"mark":{"type":"text","font":"Liberation Sans","fontSize":25,"baseline":"middle","align":"right","color":"#000"},
"encoding":{"x":{"field":"t","type":"quantitative","title":null},"y":{"field":"v","type":"quantitative","title":null},"text":{"field":"s"}}},
{"data":{"name":"lab"},"transform":[{"filter":"datum.p==='C' && datum.k==='L'"}],"mark":{"type":"text","font":"Liberation Sans","fontSize":52,"baseline":"middle","align":"center","color":"#000"},
"encoding":{"x":{"field":"t","type":"quantitative","title":null},"y":{"field":"v","type":"quantitative","title":null},"text":{"field":"s"}}}
]
}
]
}
]
}
